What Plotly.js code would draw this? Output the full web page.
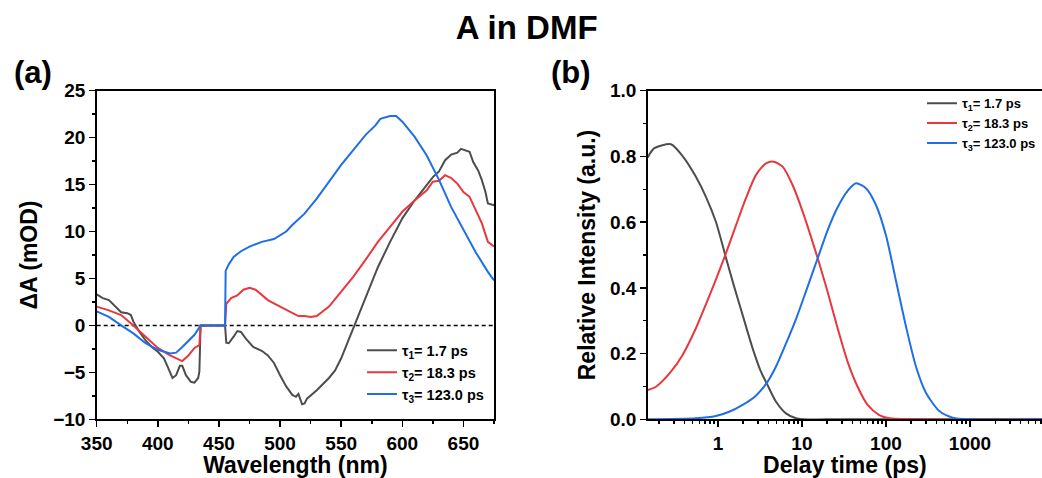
<!DOCTYPE html>
<html>
<head>
<meta charset="utf-8">
<script src="https://cdn.plot.ly/plotly-3.0.1.min.js"></script>
<style>html,body{margin:0;padding:0;background:#fff;}#chart{width:1042px;height:478px;}</style>
</head>
<body>
<div id="chart"></div>
<script>
// ---------- Panel (a): decay-associated spectra ----------
const wl1 = [350,355,360,365,370,375,378,380,385,390,395,400,405,408,412,415,418,420,423,427,430,433,434,435,455,456,458,462,465,468,472,478,485,490,495,500,505,510,513,515,518,520,522,530,540,545,550,555,560,570,580,590,600,610,620,625,630,635,640,645,648,652,655,658,662,665,668,670,675];
const dA1 = [3.3,2.9,2.7,2.0,1.4,1.3,1.1,0.4,-0.7,-1.6,-2.3,-2.8,-3.5,-4.4,-5.6,-5.3,-4.3,-4.3,-5.3,-6.0,-6.1,-5.6,-4.9,0,0,-1.85,-1.9,-1.2,-0.6,-0.7,-1.4,-2.3,-2.7,-3.2,-4.0,-5.3,-6.5,-7.4,-7.6,-7.3,-8.4,-8.3,-7.8,-6.9,-5.6,-4.8,-3.5,-1.9,-0.3,3.0,6.2,8.9,11.4,13.3,14.9,15.8,16.4,17.6,18.2,18.4,18.8,18.6,18.5,17.4,16.5,15.5,14.2,13.0,12.8];

const wl2 = [350,360,370,375,380,390,400,410,415,420,425,430,434,435,455,456,460,465,470,475,480,490,500,510,515,520,525,530,540,550,560,570,580,590,600,610,620,625,630,635,640,645,650,655,660,665,670,675];
const dA2 = [2.0,1.6,1.1,0.6,0,-1.2,-2.4,-3.2,-3.5,-3.8,-3.2,-2.4,-2.1,0,0,2.3,2.9,3.2,3.8,4.0,3.8,2.7,2.0,1.3,1.0,1.0,0.9,1.0,2.0,3.6,5.2,7.0,8.9,10.5,12.1,13.3,14.4,15.3,15.4,16.0,15.7,15.1,14.2,13.7,12.3,10.9,8.9,8.4];

const wl3 = [350,360,370,380,390,400,410,415,420,425,430,435,455,455.5,458,462,468,475,485,495,500,505,510,520,530,540,550,560,570,578,582,590,595,600,610,620,630,640,650,660,670,675];
const dA3 = [1.5,0.9,0,-0.85,-1.9,-2.6,-3.0,-2.9,-2.3,-1.7,-1.0,0,0,5.8,6.5,7.3,7.9,8.4,8.9,9.2,9.6,10.0,10.7,11.9,13.5,15.3,17.1,18.7,20.3,21.3,22.0,22.3,22.3,21.7,20.1,18.1,15.5,12.6,10.2,7.8,5.7,4.8];

// ---------- Panel (b): population profiles ----------
const t1 = [0.146,0.175,0.276,0.38,0.547,0.72,0.946,1.245,1.5,1.97,2.59,3.25,3.8,4.9,6.45,8.5,10,20,7200];
const p1 = [0.797,0.825,0.837,0.801,0.738,0.677,0.601,0.492,0.419,0.317,0.216,0.145,0.11,0.054,0.018,0.003,0,0,0];

const t2 = [0.146,0.183,0.276,0.38,0.547,0.72,0.946,1.245,1.64,2.15,2.83,3.73,4.6,5.89,7.74,10.2,15.4,20.2,26.6,35,46,60.5,83.3,110,200,7200];
const p2 = [0.089,0.099,0.145,0.196,0.277,0.35,0.425,0.505,0.59,0.672,0.743,0.779,0.784,0.769,0.713,0.632,0.49,0.388,0.277,0.175,0.099,0.044,0.013,0.003,0,0];

const t3 = [0.146,0.547,0.946,1.36,1.97,2.83,3.8,4.9,6.45,8.5,11.2,15.4,20.2,26.6,35,44,57.8,76,100,132,174,228,300,432,622,1000,7200];
const p3 = [0,0.003,0.01,0.023,0.044,0.072,0.11,0.16,0.23,0.305,0.39,0.49,0.575,0.645,0.695,0.718,0.703,0.652,0.56,0.42,0.28,0.16,0.08,0.025,0.005,0,0];

const names = ['τ<sub>1</sub>= 1.7 ps','τ<sub>2</sub>= 18.3 ps','τ<sub>3</sub>= 123.0 ps'];
const colors = ['#4d4d4d','#e8383d','#1e6fe6'];

const FONT = 'Arial, "Liberation Sans", sans-serif';

const traces = [
  {x: wl1, y: dA1, name: names[0], legend: 'legend', line: {color: colors[0], width: 2}},
  {x: wl2, y: dA2, name: names[1], legend: 'legend', line: {color: colors[1], width: 2}},
  {x: wl3, y: dA3, name: names[2], legend: 'legend', line: {color: colors[2], width: 2}},
  {x: t1, y: p1, xaxis: 'x2', yaxis: 'y2', name: names[0], legend: 'legend2', line: {color: colors[0], width: 2, shape: 'spline', smoothing: 0.7}},
  {x: t2, y: p2, xaxis: 'x2', yaxis: 'y2', name: names[1], legend: 'legend2', line: {color: colors[1], width: 2, shape: 'spline', smoothing: 0.7}},
  {x: t3, y: p3, xaxis: 'x2', yaxis: 'y2', name: names[2], legend: 'legend2', line: {color: colors[2], width: 2, shape: 'spline', smoothing: 0.7}}
].map(t => Object.assign({type: 'scatter', mode: 'lines'}, t));

const tickFont = {family: FONT, size: 19, color: '#000', weight: 'bold'};
const titleFont = {family: FONT, size: 23, color: '#000', weight: 'bold'};
const axBase = {
  showgrid: false, zeroline: false, showline: true, linecolor: '#000', linewidth: 1.5,
  ticks: 'outside', ticklen: 6, tickwidth: 1.5, tickcolor: '#000',
  tickfont: tickFont, automargin: false
};

const layout = {
  width: 1042, height: 478,
  margin: {l: 0, r: 0, t: 0, b: 0},
  paper_bgcolor: '#fff', plot_bgcolor: '#fff',
  font: {family: FONT, color: '#000'},
  title: {text: 'A in DMF', font: {family: FONT, size: 33, weight: 'bold', color: '#000'},
          x: 0.5055, xanchor: 'center', xref: 'paper', y: 0.9435, yref: 'container', yanchor: 'middle'},
  xaxis: Object.assign({}, axBase, {
    domain: [0.0928, 0.4741], range: [350, 675], tick0: 350, dtick: 50, mirror: true,
    minor: {ticks: 'outside', dtick: 25, ticklen: 3, tickwidth: 1.5, tickcolor: '#000'},
    title: {text: 'Wavelength (nm)', font: titleFont, standoff: 8}
  }),
  yaxis: Object.assign({}, axBase, {
    domain: [0.1228, 0.8103], range: [-10, 25], tick0: 0, dtick: 5, mirror: true,
    minor: {ticks: 'outside', dtick: 2.5, ticklen: 3, tickwidth: 1.5, tickcolor: '#000'},
    title: {text: 'ΔA (mOD)', font: titleFont, standoff: 9}
  }),
  xaxis2: Object.assign({}, axBase, {
    type: 'log', anchor: 'y2', domain: [0.6216, 1], range: [Math.log10(0.146), Math.log10(7200)],
    dtick: 1, mirror: true,
    minor: {ticks: 'outside', dtick: 'D1', ticklen: 3, tickwidth: 1.5, tickcolor: '#000'},
    title: {text: 'Delay time (ps)', font: titleFont, standoff: 8}
  }),
  yaxis2: Object.assign({}, axBase, {
    anchor: 'x2', domain: [0.1228, 0.8103], range: [0, 1], dtick: 0.2, tickformat: '.1f',
    minor: {ticks: 'outside', dtick: 0.1, ticklen: 3, tickwidth: 1.5, tickcolor: '#000'},
    title: {text: 'Relative Intensity (a.u.)', font: titleFont, standoff: 8}
  }),
  showlegend: true,
  legend: {x: 0.3474, xanchor: 'left', y: 0.3005, yanchor: 'top', bgcolor: 'rgba(0,0,0,0)',
           font: {family: FONT, size: 14.5, weight: 'bold', color: '#000'}},
  legend2: {x: 0.8848, xanchor: 'left', y: 0.8155, yanchor: 'top', bgcolor: 'rgba(0,0,0,0)',
            font: {family: FONT, size: 13, weight: 'bold', color: '#000'}},
  shapes: [{type: 'line', xref: 'x domain', yref: 'y', x0: 0, x1: 1, y0: 0, y1: 0,
            line: {color: '#000', width: 1.5, dash: '4px,3px'}, layer: 'below'}],
  annotations: [
    {text: '(a)', xref: 'paper', yref: 'paper', x: 0.0115, xanchor: 'left', y: 0.849, yanchor: 'middle',
     showarrow: false, font: {family: FONT, size: 31, weight: 'bold', color: '#000'}},
    {text: '(b)', xref: 'paper', yref: 'paper', x: 0.527, xanchor: 'left', y: 0.849, yanchor: 'middle',
     showarrow: false, font: {family: FONT, size: 31, weight: 'bold', color: '#000'}}
  ]
};

Plotly.newPlot('chart', traces, layout, {displayModeBar: false, staticPlot: true});
</script>
</body>
</html>
